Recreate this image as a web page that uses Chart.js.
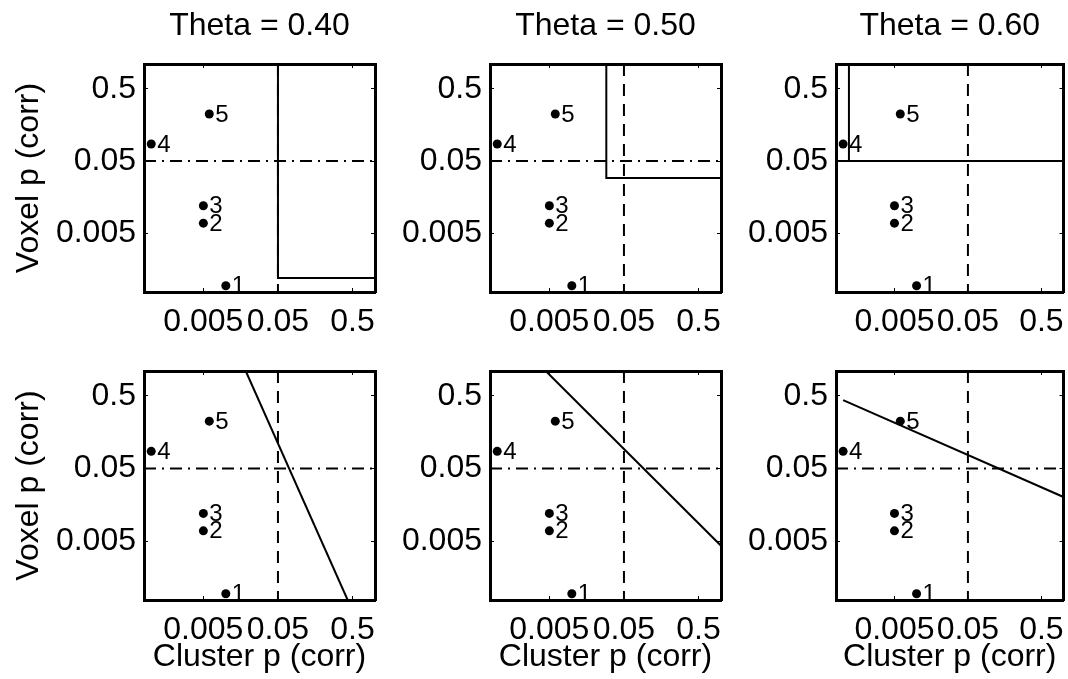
<!DOCTYPE html>
<html><head><meta charset="utf-8">
<script src="https://cdn.jsdelivr.net/npm/chart.js@4.4.1/dist/chart.umd.min.js"></script>
<style>
html,body{margin:0;padding:0;background:#fff;overflow:hidden;width:1068px;height:679px;position:relative}
canvas{position:absolute}
</style></head>
<body>
<script>
// ---- data ----
const thetaLabels = ['Theta = 0.40', 'Theta = 0.50', 'Theta = 0.60'];
const pointLabels = ['1', '2', '3', '4', '5'];
const clusterP = [0.01, 0.005, 0.005, 0.001, 0.006];
const voxelP = [0.00094, 0.0069, 0.012, 0.086, 0.224];
const clusterThreshold = 0.05;
const voxelThreshold = 0.05;
const tickValues = [0.005, 0.05, 0.5];
const tickLabels = ['0.005', '0.05', '0.5'];
const xRange = [0.0008, 1.0];
const yRange = [0.00077, 1.1];
// top row: rectangular acceptance region corner per theta
const regionCornerX = [0.05, 0.029, 0.0012];
const regionCornerY = [0.0012, 0.029, 0.05];
// bottom row: linear boundary (in log-log space) per theta
const boundaryStartX = [0.0185, 0.00447, 0.001];
const boundaryStartY = [1.1, 1.1, 0.436];
const boundaryEndX = [0.43, 1.0, 1.0];
const boundaryEndY = [0.00077, 0.0043, 0.0202];

const FONT = "'Liberation Sans', Arial, sans-serif";
const BIG = 32;

const cols = [
  {left: 0, width: 380, yW: 144, padR: 5},
  {left: 380, width: 346, yW: 110, padR: 5},
  {left: 726, width: 342, yW: 110, padR: 3}
];
const rows = [
  {top: 0, height: 340, topH: 64, botH: 48},
  {top: 340, height: 339, topH: 31, botH: 79}
];

const pointLabelPlugin = {
  id: 'pointLabels',
  afterDatasetsDraw(chart) {
    const idx = chart.data.datasets.findIndex(d => d.isPoints);
    const meta = chart.getDatasetMeta(idx);
    const ctx = chart.ctx;
    ctx.save();
    ctx.font = '24px ' + FONT;
    ctx.fillStyle = '#000';
    ctx.textBaseline = 'middle';
    ctx.textAlign = 'left';
    meta.data.forEach((el, i) => ctx.fillText(pointLabels[i], el.x + 6, el.y + 1));
    ctx.restore();
  }
};

function fixSize(prop, v) {
  return s => { s[prop] = v; s.paddingLeft = 0; s.paddingRight = 0; s.paddingTop = 0; s.paddingBottom = 0; };
}
function setTicks(s) { s.ticks = tickValues.map(v => ({value: v})); }

function logAxis(pos, range, sizeProp, size, showLabels, title, pad) {
  return {
    type: 'logarithmic', position: pos, min: range[0], max: range[1], bounds: 'data', z: 1,
    afterBuildTicks: setTicks,
    afterFit: fixSize(sizeProp, size),
    ticks: {
      display: showLabels, autoSkip: false, maxRotation: 0, minRotation: 0,
      padding: pad, color: '#000', font: {family: FONT, size: BIG},
      callback: (v, i) => tickLabels[i]
    },
    grid: {display: true, drawOnChartArea: false, drawTicks: true, tickLength: -4, color: '#000', lineWidth: 1},
    border: {display: true, color: '#000', width: 3},
    title: title
  };
}

rows.forEach((row, r) => {
  cols.forEach((col, c) => {
    const cv = document.createElement('canvas');
    cv.width = col.width; cv.height = row.height;
    cv.style.left = col.left + 'px'; cv.style.top = row.top + 'px';
    cv.style.width = col.width + 'px'; cv.style.height = row.height + 'px';
    document.body.appendChild(cv);

    let boundary;
    if (r === 0) {
      boundary = [
        {x: regionCornerX[c], y: yRange[1] * 2},
        {x: regionCornerX[c], y: regionCornerY[c]},
        {x: xRange[1] * 2, y: regionCornerY[c]}
      ];
    } else {
      boundary = [
        {x: boundaryStartX[c], y: boundaryStartY[c]},
        {x: boundaryEndX[c], y: boundaryEndY[c]}
      ];
    }

    const datasets = [
      {data: [{x: clusterThreshold, y: yRange[1]}, {x: clusterThreshold, y: yRange[0]}],
       showLine: true, borderColor: '#000', borderWidth: 2, borderDash: [12, 8], pointRadius: 0, xAxisID: 'x', yAxisID: 'y'},
      {data: [{x: xRange[0], y: voxelThreshold}, {x: xRange[1], y: voxelThreshold}],
       showLine: true, borderColor: '#000', borderWidth: 2, borderDash: [12, 6, 2, 6], pointRadius: 0, xAxisID: 'x', yAxisID: 'y'},
      {data: boundary, showLine: true, borderColor: '#000', borderWidth: 2, pointRadius: 0, tension: 0, xAxisID: 'x', yAxisID: 'y'},
      {data: clusterP.map((v, i) => ({x: v, y: voxelP[i]})), isPoints: true, showLine: false,
       pointRadius: 4.5, pointBackgroundColor: '#000', pointBorderWidth: 0, xAxisID: 'x', yAxisID: 'y'}
    ];

    new Chart(cv, {
      type: 'scatter',
      data: {datasets},
      options: {
        responsive: false, maintainAspectRatio: false, devicePixelRatio: 1, animation: false,
        layout: {padding: {left: 0, top: 0, right: col.padR, bottom: 0}},
        plugins: {legend: {display: false}, tooltip: {enabled: false}, title: {display: false}},
        scales: {
          x: logAxis('bottom', xRange, 'height', row.botH, true,
            {display: r === 1, text: 'Cluster p (corr)', color: '#000', font: {family: FONT, size: BIG}, padding: {top: 0, bottom: 3}}, 15),
          y: logAxis('left', yRange, 'width', col.yW, true,
            {display: c === 0, text: 'Voxel p (corr)', color: '#000', font: {family: FONT, size: BIG}, padding: {top: 10, bottom: 0}}, 12),
          x2: logAxis('top', xRange, 'height', row.topH, false,
            {display: r === 0, text: thetaLabels[c], color: '#000', font: {family: FONT, size: BIG}, padding: {top: 7, bottom: 0}}, 0),
          y2: logAxis('right', yRange, 'width', 0, false, {display: false}, 0)
        }
      },
      plugins: [pointLabelPlugin]
    });
  });
});
</script>
</body></html>
